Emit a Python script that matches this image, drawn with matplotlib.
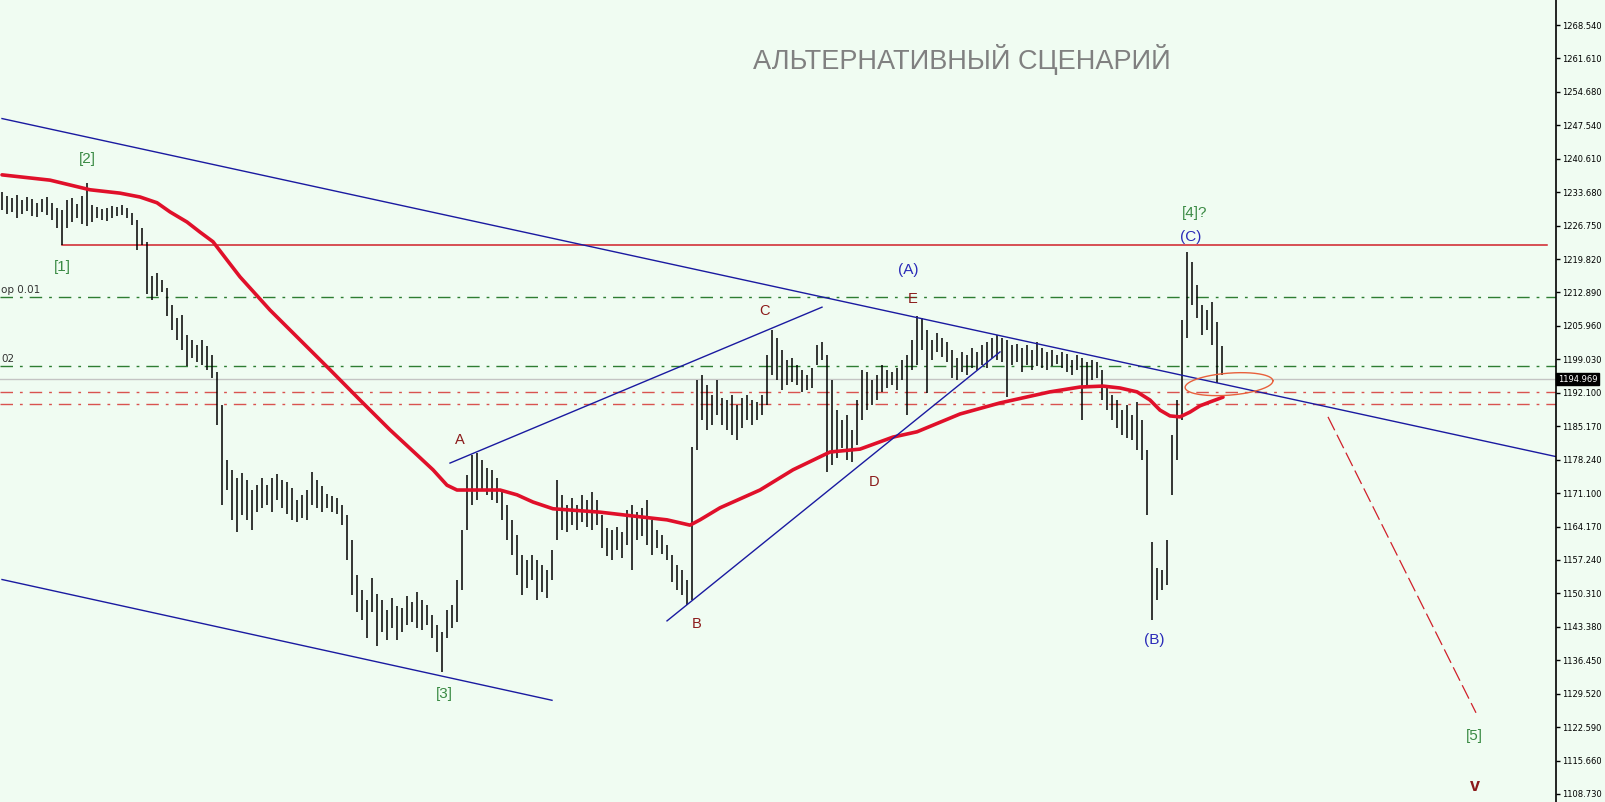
import numpy as np
import matplotlib
matplotlib.use("Agg")
import matplotlib.pyplot as plt
import matplotlib.transforms as mtransforms

# bar highs / lows, one bar every 5 px
highs = [
    1233.8, 1233.0, 1232.6, 1233.2, 1232.2, 1232.8, 1232.4, 1231.6, 1232.4, 1232.8,
    1231.6, 1230.5, 1230.1, 1232.2, 1232.6, 1231.3, 1233.0, 1235.7, 1231.1, 1230.7,
    1230.3, 1230.5, 1230.9, 1230.7, 1231.1, 1230.5, 1229.5, 1228.0, 1226.4, 1223.5,
    1216.4, 1217.0, 1215.6, 1213.9, 1210.4, 1207.7, 1208.3, 1204.1, 1203.1, 1202.0,
    1203.1, 1201.8, 1200.0, 1196.4, 1189.6, 1178.2, 1176.1, 1174.4, 1175.5, 1174.0,
    1171.9, 1173.0, 1174.4, 1173.0, 1174.4, 1175.2, 1174.0, 1173.6, 1172.3, 1169.8,
    1170.9, 1171.9, 1175.7, 1174.0, 1172.7, 1171.1, 1170.7, 1170.3, 1168.8, 1166.7,
    1161.5, 1154.3, 1151.1, 1149.1, 1153.6, 1150.3, 1149.1, 1147.0, 1149.5, 1147.8,
    1147.4, 1149.9, 1148.6, 1150.7, 1149.1, 1148.0, 1145.9, 1143.9, 1142.4, 1147.0,
    1148.0, 1153.2, 1163.6, 1175.0, 1179.2, 1179.6, 1178.2, 1176.5, 1176.1, 1174.4,
    1171.9, 1168.8, 1165.7, 1162.6, 1158.4, 1157.4, 1158.4, 1157.4, 1156.3, 1155.3,
    1159.5, 1174.0, 1170.9, 1168.8, 1170.3, 1168.8, 1170.9, 1169.8, 1171.5, 1169.8,
    1166.7, 1164.0, 1163.6, 1164.2, 1163.2, 1167.8, 1168.8, 1167.3, 1168.2, 1169.8,
    1165.7, 1163.6, 1162.6, 1160.5, 1158.4, 1156.3, 1155.3, 1153.2, 1180.8, 1194.8,
    1195.8, 1193.7, 1191.7, 1194.8, 1191.0, 1190.6, 1191.7, 1189.6, 1191.0, 1191.7,
    1190.6, 1190.2, 1191.7, 1200.0, 1205.2, 1203.5, 1201.0, 1198.9, 1199.3, 1197.9,
    1196.9, 1195.8, 1197.3, 1202.0, 1202.7, 1200.0, 1194.8, 1188.5, 1186.5, 1187.5,
    1184.4, 1190.6, 1196.9, 1196.4, 1194.8, 1195.8, 1197.9, 1196.9, 1196.4, 1197.3,
    1198.9, 1200.0, 1203.1, 1208.1, 1207.7, 1205.2, 1203.1, 1204.5, 1203.5, 1202.7,
    1201.0, 1199.3, 1200.6, 1200.0, 1201.4, 1200.6, 1202.0, 1202.7, 1203.5, 1204.1,
    1203.5, 1203.1, 1202.0, 1202.2, 1201.4, 1202.0, 1201.0, 1202.7, 1201.4, 1200.6,
    1201.0, 1200.0, 1200.6, 1200.2, 1198.9, 1200.0, 1199.3, 1198.5, 1198.9, 1198.5,
    1196.9, 1193.7, 1191.7, 1190.6, 1188.5, 1189.6, 1187.5, 1190.2, 1186.5, 1180.2,
    1161.1, 1155.7, 1155.3, 1161.5, 1183.3, 1190.6, 1207.2, 1221.4, 1219.3, 1214.5,
    1210.4, 1209.3, 1211.0, 1206.8, 1201.8,
]
lows = [
    1230.1, 1229.3, 1229.7, 1228.4, 1229.3, 1229.9, 1228.9, 1228.6, 1229.7, 1229.1,
    1228.0, 1226.4, 1222.8, 1226.4, 1227.6, 1228.4, 1227.2, 1226.8, 1227.6, 1228.4,
    1228.0, 1227.8, 1228.4, 1228.9, 1229.1, 1228.4, 1227.0, 1221.8, 1222.8, 1212.6,
    1211.4, 1212.2, 1213.1, 1208.1, 1205.2, 1203.1, 1201.0, 1197.7, 1199.3, 1198.5,
    1197.9, 1196.9, 1195.2, 1185.4, 1168.8, 1171.9, 1165.7, 1163.2, 1166.7, 1165.7,
    1163.6, 1167.3, 1168.2, 1168.8, 1167.3, 1169.8, 1168.2, 1166.9, 1165.7, 1165.3,
    1166.1, 1165.7, 1168.8, 1168.2, 1167.3, 1168.2, 1167.3, 1166.9, 1164.7, 1157.4,
    1150.1, 1146.6, 1144.9, 1141.2, 1146.6, 1139.5, 1142.4, 1140.8, 1143.2, 1140.8,
    1142.4, 1143.8, 1144.5, 1143.2, 1142.8, 1143.8, 1141.2, 1138.3, 1134.1, 1141.2,
    1143.2, 1144.5, 1151.1, 1163.6, 1168.8, 1169.8, 1171.9, 1170.9, 1169.8, 1169.2,
    1165.7, 1161.5, 1158.4, 1154.3, 1150.1, 1151.5, 1153.2, 1149.1, 1150.7, 1149.5,
    1153.2, 1161.5, 1163.6, 1163.2, 1164.7, 1163.6, 1165.3, 1164.2, 1163.6, 1164.7,
    1159.9, 1158.2, 1157.4, 1159.5, 1157.8, 1160.5, 1155.3, 1161.5, 1162.4, 1160.5,
    1158.4, 1159.9, 1158.6, 1157.4, 1152.8, 1151.1, 1150.1, 1148.0, 1149.1, 1180.2,
    1186.5, 1184.4, 1185.4, 1187.5, 1185.4, 1184.4, 1183.3, 1182.3, 1184.8, 1186.5,
    1185.4, 1186.5, 1187.5, 1189.6, 1195.8, 1194.8, 1192.7, 1193.7, 1194.4, 1193.7,
    1192.3, 1192.7, 1193.1, 1197.9, 1198.9, 1175.7, 1177.1, 1178.6, 1180.6, 1178.2,
    1177.7, 1181.3, 1186.5, 1188.5, 1189.6, 1190.6, 1192.3, 1193.1, 1193.7, 1192.7,
    1194.8, 1187.5, 1196.9, 1197.9, 1201.0, 1192.1, 1198.9, 1200.6, 1199.6, 1198.5,
    1195.2, 1194.8, 1196.4, 1195.8, 1197.3, 1196.9, 1197.9, 1197.3, 1199.3, 1198.9,
    1198.5, 1191.2, 1197.9, 1198.5, 1196.4, 1197.9, 1196.9, 1197.7, 1197.3, 1196.9,
    1197.7, 1198.1, 1197.3, 1196.4, 1195.8, 1196.9, 1186.5, 1193.7, 1194.8, 1195.2,
    1190.6, 1188.5, 1186.5, 1184.8, 1183.3, 1182.7, 1182.3, 1180.2, 1178.2, 1166.7,
    1144.9, 1149.1, 1151.1, 1152.2, 1170.9, 1178.2, 1186.5, 1203.5, 1210.4, 1207.7,
    1204.1, 1205.2, 1202.0, 1194.1, 1195.8,
]

# moving average (red), read at some bars
ma_bar = [0, 9.6, 17.6, 23.6, 27.6, 31, 33.6, 37, 39.6, 42.2, 45, 47.6, 53.6, 59.6,
          65.6, 71.6, 77.6, 83, 86.2, 89, 91, 96.2, 99.6, 103, 106.2, 110.2, 119.6,
          126.2, 133, 137.6, 139.6, 143.6, 151.6, 158.2, 165.6, 171.6, 178.2, 183,
          191.6, 199.6, 209.6, 215.6, 220.2, 223.6, 227, 229.6, 231.6, 233.6, 235.6,
          237.6, 239.6, 241.6, 244.2]
ma_price = [1237.4, 1236.3, 1234.3, 1233.6, 1232.8, 1231.6, 1229.7, 1227.6, 1225.5,
            1223.5, 1219.7, 1216.2, 1209.3, 1203.1, 1196.9, 1190.6, 1184.4, 1179.2,
            1176.1, 1172.9, 1171.9, 1171.9, 1171.9, 1170.9, 1169.4, 1168.0, 1167.3,
            1166.5, 1165.7, 1164.6, 1165.7, 1168.2, 1171.9, 1176.1, 1179.8, 1180.4,
            1182.9, 1184.0, 1187.7, 1190.0, 1192.3, 1193.3, 1193.5, 1193.1, 1192.3,
            1190.6, 1188.5, 1187.3, 1187.1, 1188.1, 1189.4, 1190.2, 1191.2]

# drawn objects: (bar, price) anchors
channel_top = ([0, 311], [1249.1, 1178.8])
channel_bottom = ([0, 110], [1153.3, 1128.2])
wedge_top = ([89.6, 164], [1177.5, 1209.9])
wedge_bottom = ([133, 199.6], [1144.7, 1200.6])
projection = ([265.2, 294.8], [1187.1, 1125.6])
level_1 = ([12, 309], [1222.8, 1222.8])
green_levels = [1212.0, 1197.65]
red_levels = [1192.3, 1189.8]
bid = 1194.969

tick_labels = ["1268.540", "1261.610", "1254.680", "1247.540", "1240.610", "1233.680",
               "1226.750", "1219.820", "1212.890", "1205.960", "1199.030", "1192.100",
               "1185.170", "1178.240", "1171.100", "1164.170", "1157.240", "1150.310",
               "1143.380", "1136.450", "1129.520", "1122.590", "1115.660", "1108.730"]

green_marks = [("[2]", 17, 1240.7), ("[1]", 12, 1218.2), ("[3]", 88.4, 1129.5),
               ("[4]?", 238.6, 1229.5), ("[5]", 294.4, 1120.8)]
blue_marks = [("(A)", 181.2, 1217.6), ("(C)", 237.8, 1224.5), ("(B)", 230.4, 1140.7)]
red_marks = [("A", 91.6, 1182.3), ("B", 139, 1144.0), ("C", 152.4, 1209.1),
             ("D", 174.4, 1173.6), ("E", 182.2, 1211.6)]

BG = "#F0FCF2"
NAVY = "#1A1AA0"

fig = plt.figure(figsize=(16.05, 8.02), dpi=100, facecolor=BG)
ax = fig.add_axes([0, 0, 1556 / 1605, 1], facecolor=BG)
ax.set_xlim(-0.4, 310.8)
ax.set_ylim(1107.06, 1273.74)

# levels
for p in green_levels:
    ax.axhline(p, color="#2E7D32", lw=1, ls=(0, (9, 5, 2, 5)))
for p in red_levels:
    ax.axhline(p, color="#D9534F", lw=1, ls=(0, (9, 5, 2, 5)))
ax.axhline(bid, color="#C4C4C4", lw=1)
ax.plot(*level_1, color="#D0202A", lw=1.1)

# bars
idx = np.arange(len(highs))
ax.vlines(idx, lows, highs, color="black", lw=1.1)

ax.plot(ma_bar, ma_price, color="#E0102A", lw=2.6, solid_capstyle="round",
        solid_joinstyle="round")

for ln in (channel_top, channel_bottom, wedge_top, wedge_bottom):
    ax.plot(*ln, color=NAVY, lw=1)
ax.plot(*projection, color="#D0202A", lw=0.9, ls=(0, (12, 4)))

# ellipse, drawn in pixel-like units then mapped to data
t = np.linspace(0, 2 * np.pi, 200)
a, b, th = 44, 11, np.deg2rad(4.5)
ex = a * np.cos(t) * np.cos(th) - b * np.sin(t) * np.sin(th)
ey = a * np.cos(t) * np.sin(th) + b * np.sin(t) * np.cos(th)
ax.plot(245.4 + ex / 5.0, 1193.9 + ey / 4.811, color="#E8603C", lw=1)

# labels
for s, x, y in green_marks:
    ax.text(x, y, s, color="#3A8A44", fontsize=11, ha="center", va="center",
            family="Liberation Sans")
for s, x, y in blue_marks:
    ax.text(x, y, s, color="#2A2AB8", fontsize=11, ha="center", va="center",
            family="Liberation Sans")
for s, x, y in red_marks:
    ax.text(x, y, s, color="#8B1A1A", fontsize=10.5, ha="center", va="center",
            family="Liberation Sans")
ax.text(294.6, 1110.2, "v", color="#8B1A1A", fontsize=13, ha="center", va="center",
        family="Liberation Sans", fontweight="bold")
ax.text(0.618, 0.926, "АЛЬТЕРНАТИВНЫЙ СЦЕНАРИЙ", transform=ax.transAxes,
        color="#808080", fontsize=19.5, ha="center", va="center", family="Liberation Sans")
ax.text(-0.2, green_levels[0] + 0.4, "op 0.01", fontsize=7.5, color="#333333",
        va="bottom", ha="left", family="DejaVu Sans")
ax.text(-0.2, green_levels[1] + 0.4, "02", fontsize=7.5, color="#333333",
        va="bottom", ha="left", family="DejaVu Sans")

# right price scale
ax.yaxis.tick_right()
ax.set_yticks(np.linspace(1268.54, 1108.73, 24))
ax.set_yticklabels(tick_labels)
ax.tick_params(axis="y", direction="out", length=3, width=1, pad=1.5, labelsize=6,
               colors="black")
ax.set_xticks([])
for side in ("top", "bottom", "left"):
    ax.spines[side].set_visible(False)
ax.spines["right"].set_linewidth(1.2)

trans = mtransforms.blended_transform_factory(ax.transAxes, ax.transData)
ax.text(1.0012, bid, "1194.969", transform=trans, color="white", fontsize=6,
        va="center", ha="left", clip_on=False, family="DejaVu Sans",
        bbox=dict(boxstyle="square,pad=0.2", fc="black", ec="black"))

fig.savefig("out.png", dpi=100, facecolor=BG)
